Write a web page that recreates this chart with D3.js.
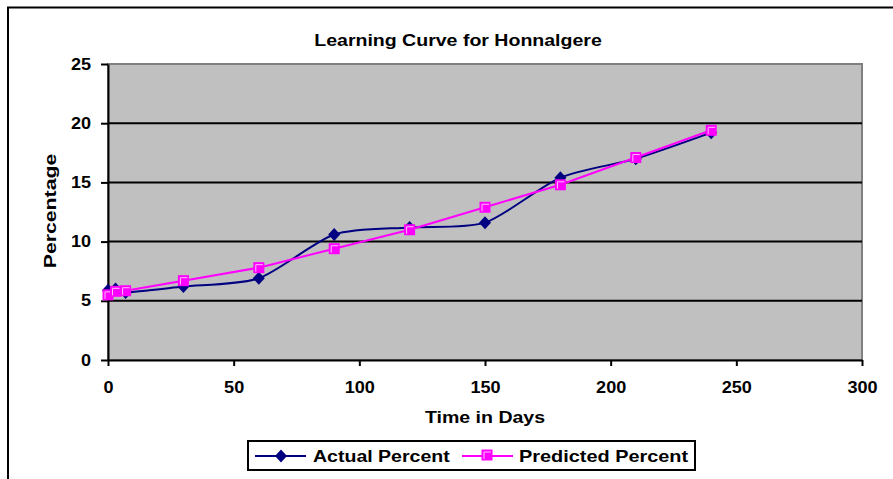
<!DOCTYPE html>
<html>
<head>
<meta charset="utf-8">
<script src="https://cdn.jsdelivr.net/npm/d3@7"></script>
<style>
  body { margin: 0; background: #fff; }
  text { font-family: "Liberation Sans", Arial, sans-serif; font-weight: bold; fill: #000; }
</style>
</head>
<body>
<div id="chart"></div>
<script>
// Data
const days = [0, 3, 7, 30, 60, 90, 120, 150, 180, 210, 240];
const actualPercent = [5.9, 6.0, 5.7, 6.2, 6.9, 10.6, 11.2, 11.6, 15.4, 17.0, 19.2];
const predictedPercent = [5.5, 5.8, 5.85, 6.7, 7.8, 9.4, 11.0, 12.9, 14.8, 17.1, 19.4];
const xTicks = [0, 50, 100, 150, 200, 250, 300];
const yTicks = [0, 5, 10, 15, 20, 25];
const seriesNames = ["Actual Percent", "Predicted Percent"];

const width = 893, height = 479;
const plot = {left: 108, top: 64, right: 862, bottom: 360};
const stretch = 1.15;     // the original text is drawn a bit wide
const tickStretch = 1.13;

const svg = d3.select("#chart")
  .append("svg")
  .attr("width", width)
  .attr("height", height);

// outer chart border (runs off right and bottom)
svg.append("rect")
  .attr("x", 8).attr("y", 7.5)
  .attr("width", 900).attr("height", 500)
  .attr("fill", "#fff")
  .attr("stroke", "#000")
  .attr("stroke-width", 2);

const x = d3.scaleLinear().domain([0, 300]).range([plot.left, plot.right]);
const y = d3.scaleLinear().domain([0, 25]).range([plot.bottom, plot.top]);

// plot area
svg.append("rect")
  .attr("x", plot.left).attr("y", plot.top)
  .attr("width", plot.right - plot.left)
  .attr("height", plot.bottom - plot.top)
  .attr("fill", "#c0c0c0")
  .attr("stroke", "#808080")
  .attr("stroke-width", 2);

// gridlines
svg.append("g")
  .selectAll("line")
  .data(yTicks.filter(d => d > 0 && d < 25))
  .enter()
  .append("line")
  .attr("x1", plot.left).attr("x2", plot.right)
  .attr("y1", d => y(d)).attr("y2", d => y(d))
  .attr("stroke", "#000")
  .attr("stroke-width", 2);

// axes
const xAxis = svg.append("g")
  .attr("transform", "translate(0," + plot.bottom + ")")
  .call(d3.axisBottom(x).tickValues(xTicks).tickSize(6).tickPadding(16).tickSizeOuter(0));
const yAxis = svg.append("g")
  .attr("transform", "translate(" + plot.left + ",0)")
  .call(d3.axisLeft(y).tickValues(yTicks).tickSize(7).tickPadding(9).tickSizeOuter(0));

[xAxis, yAxis].forEach(a => {
  a.select(".domain").attr("stroke", "#000").attr("stroke-width", 2);
  a.selectAll(".tick line").attr("stroke", "#000").attr("stroke-width", 2);
  a.selectAll(".tick text")
    .attr("font-family", "Liberation Sans, Arial, sans-serif")
    .attr("font-weight", "bold")
    .attr("font-size", 16)
    .attr("fill", "#000")
    .attr("transform", "scale(" + tickStretch + ",1)");
});
yAxis.selectAll(".tick text").attr("x", -17 / tickStretch);

function label(px, py, txt, anchor, rotate, sx) {
  return svg.append("text")
    .attr("transform", "translate(" + px + "," + py + ")" +
      (rotate ? " rotate(-90)" : "") + " scale(" + (sx || stretch) + ",1)")
    .attr("text-anchor", anchor)
    .attr("font-size", 17)
    .text(txt);
}

// titles
label(458, 46, "Learning Curve for Honnalgere", "middle");
label(485, 423, "Time in Days", "middle");
label(56, 211, "Percentage", "middle", true, 1.25);

// lines
const actualData = days.map((d, i) => ({day: d, value: actualPercent[i]}));
const predictedData = days.map((d, i) => ({day: d, value: predictedPercent[i]}));

const smoothLine = d3.line()
  .x(d => x(d.day)).y(d => y(d.value))
  .curve(d3.curveCardinal.tension(0.25));
const straightLine = d3.line()
  .x(d => x(d.day)).y(d => y(d.value));

svg.append("path")
  .datum(actualData)
  .attr("d", smoothLine)
  .attr("fill", "none")
  .attr("stroke", "#000080")
  .attr("stroke-width", 2);

svg.append("g")
  .selectAll("path")
  .data(actualData)
  .enter()
  .append("path")
  .attr("transform", d => "translate(" + x(d.day) + "," + y(d.value) + ")")
  .attr("d", "M0,-6.5L6,0L0,6.5L-6,0Z")
  .attr("fill", "#000080");

svg.append("path")
  .datum(predictedData)
  .attr("d", straightLine)
  .attr("fill", "none")
  .attr("stroke", "#ff00ff")
  .attr("stroke-width", 2);

function squareMarker(g) {
  g.append("rect")
    .attr("x", -5.5).attr("y", -5.5)
    .attr("width", 11).attr("height", 11)
    .attr("fill", "#ff00ff");
  g.append("path")
    .attr("d", "M-3,4V-3H4")
    .attr("fill", "none")
    .attr("stroke", "#ffc0ff")
    .attr("stroke-width", 1);
}

svg.append("g")
  .selectAll("g")
  .data(predictedData)
  .enter()
  .append("g")
  .attr("transform", d => "translate(" + x(d.day) + "," + y(d.value) + ")")
  .each(function() { squareMarker(d3.select(this)); });

// legend
const legend = svg.append("g");
legend.append("rect")
  .attr("x", 248).attr("y", 441)
  .attr("width", 447).attr("height", 29)
  .attr("fill", "#fff")
  .attr("stroke", "#000")
  .attr("stroke-width", 2);

legend.append("line")
  .attr("x1", 255).attr("x2", 306).attr("y1", 456).attr("y2", 456)
  .attr("stroke", "#000080").attr("stroke-width", 2);
legend.append("path")
  .attr("transform", "translate(281,456)")
  .attr("d", "M0,-6.5L6,0L0,6.5L-6,0Z")
  .attr("fill", "#000080");
label(313, 462, seriesNames[0], "start");

legend.append("line")
  .attr("x1", 462).attr("x2", 513).attr("y1", 456).attr("y2", 456)
  .attr("stroke", "#ff00ff").attr("stroke-width", 2);
squareMarker(legend.append("g").attr("transform", "translate(487,455)"));
label(519, 462, seriesNames[1], "start", false, 1.17);
</script>
</body>
</html>
